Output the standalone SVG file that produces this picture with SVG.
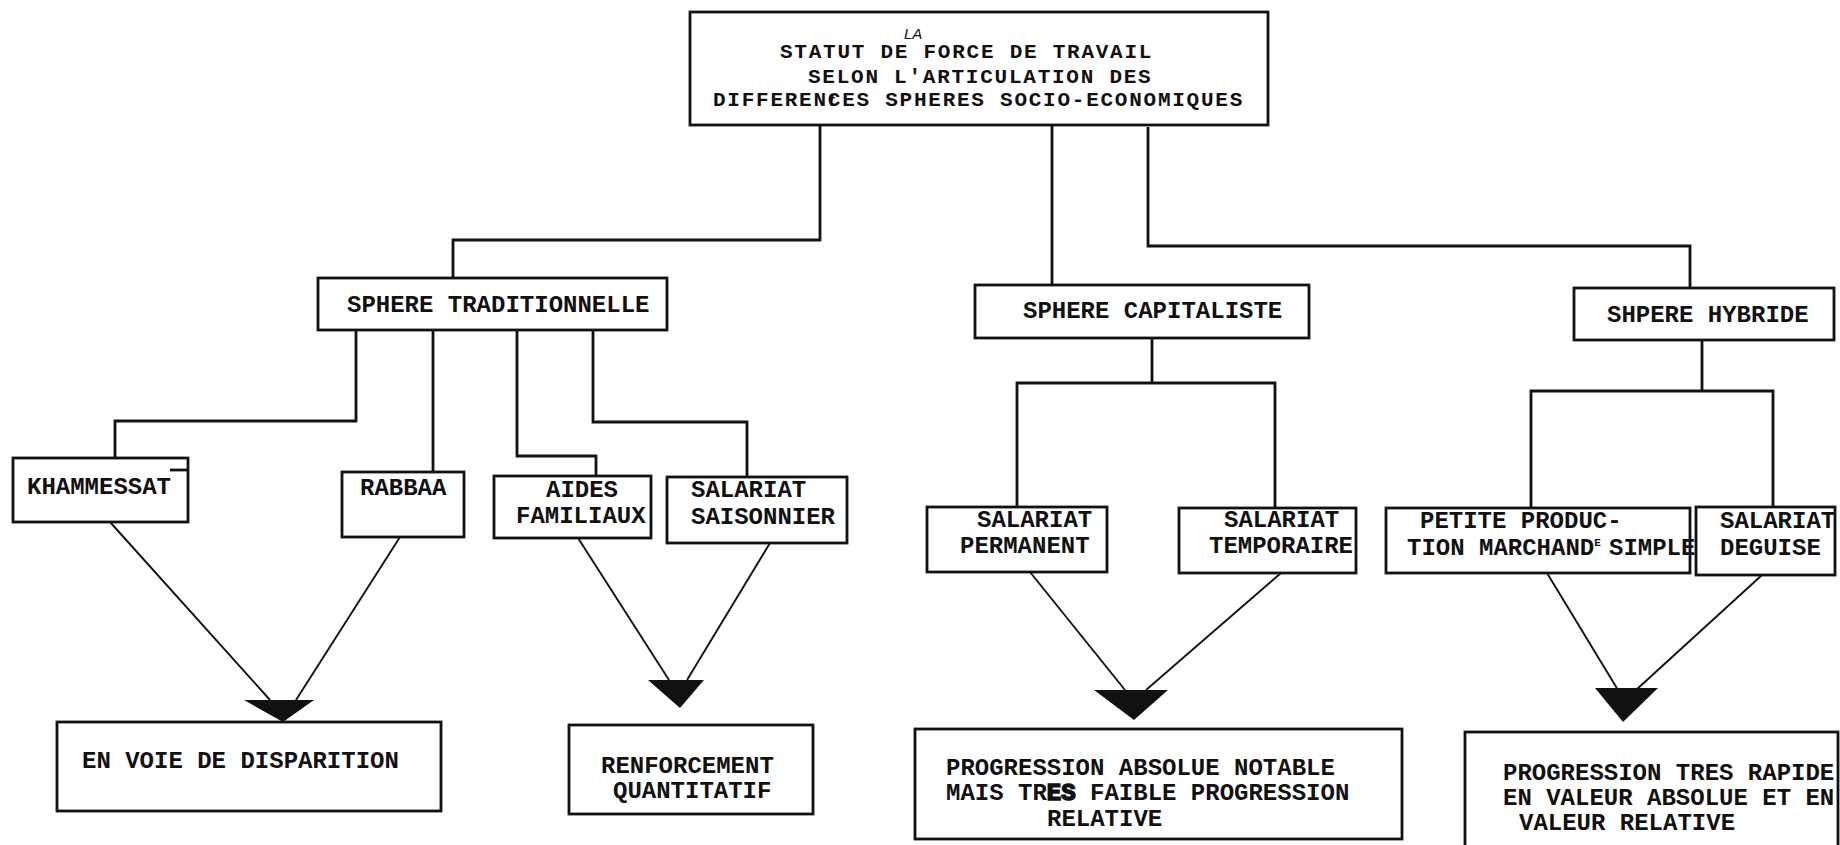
<svg xmlns="http://www.w3.org/2000/svg" width="1840" height="845" viewBox="0 0 1840 845">
<style>
.bg{fill:#fff}
.box{fill:none;stroke:#111;stroke-width:2.8}
.ln{fill:none;stroke:#111;stroke-width:2.8}
.dg{fill:none;stroke:#111;stroke-width:1.9}
.head{fill:#111}
.t{font-family:"Liberation Mono","DejaVu Sans Mono",monospace;font-size:24px;font-weight:bold;fill:#111}
.tt{font-family:"Liberation Mono","DejaVu Sans Mono",monospace;font-size:21px;font-weight:bold;letter-spacing:1.75px;fill:#111}
.hw{font-family:"Liberation Sans",sans-serif;font-style:italic;font-size:15px;fill:#111}
.smudge{stroke:#111;stroke-width:1.6}
</style>
<rect class="bg" x="0" y="0" width="1840" height="845"/>
<g id="connectors">
<path class="ln" d="M820 125 V240 H453 V278"/>
<path class="ln" d="M1052 126 V285"/>
<path class="ln" d="M1148 127 V246 H1690 V288"/>
<path class="ln" d="M356 330 V421 H115 V458"/>
<path class="ln" d="M433 330 V472"/>
<path class="ln" d="M517 330 V456 H596 V477"/>
<path class="ln" d="M593 330 V422 H747 V477"/>
<path class="ln" d="M1152 338 V383"/>
<path class="ln" d="M1017 507 V383 H1275 V507"/>
<path class="ln" d="M1702 340 V391"/>
<path class="ln" d="M1531 508 V391 H1773 V508"/>
<path class="dg" d="M110 522 L270 700"/>
<path class="dg" d="M400 537 L296 700"/>
<path class="dg" d="M578 538 L669 680"/>
<path class="dg" d="M770 543 L687 680"/>
<path class="dg" d="M1030 572 L1125 690"/>
<path class="dg" d="M1281 573 L1146 690"/>
<path class="dg" d="M1547 573 L1618 690"/>
<path class="dg" d="M1762 575 L1636 690"/>
<polygon class="head" points="244,700 314,700 283,722"/>
<polygon class="head" points="648,680 704,680 680,708"/>
<polygon class="head" points="1094,690 1168,690 1134,720"/>
<polygon class="head" points="1595,688 1658,688 1623,722"/>
</g>
<g id="n-top">
<rect class="box" x="690" y="12" width="578" height="113"/>
<text class="hw" x="904" y="39">LA</text>
<text class="tt" x="780" y="58">STATUT DE FORCE DE TRAVAIL</text>
<text class="tt" x="808" y="83">SELON L'ARTICULATION DES</text>
<text class="tt" x="713" y="106">DIFFERENCES SPHERES SOCIO-ECONOMIQUES</text>
<text class="hw" x="829" y="106" style="font-size:16px;font-weight:bold">t</text>
</g>
<g id="n-trad">
<rect class="box" x="318" y="278" width="349" height="52"/>
<text class="t" x="347" y="312">SPHERE TRADITIONNELLE</text>
</g>
<g id="n-khammessat">
<rect class="box" x="13" y="458" width="175" height="64"/>
<path class="ln" d="M170 470 H188"/>
<text class="t" x="27" y="494">KHAMMESSAT</text>
</g>
<g id="n-rabbaa">
<rect class="box" x="342" y="472" width="122" height="65"/>
<text class="t" x="360" y="495">RABBAA</text>
</g>
<g id="n-aides">
<rect class="box" x="494" y="476" width="157" height="62"/>
<text class="t" x="546" y="497">AIDES</text>
<text class="t" x="516" y="523">FAMILIAUX</text>
</g>
<g id="n-saisonnier">
<rect class="box" x="667" y="477" width="180" height="66"/>
<text class="t" x="691" y="497">SALARIAT</text>
<text class="t" x="691" y="524">SAISONNIER</text>
</g>
<g id="n-disparition">
<rect class="box" x="57" y="722" width="384" height="89"/>
<text class="t" x="82" y="768">EN VOIE DE DISPARITION</text>
</g>
<g id="n-renforcement">
<rect class="box" x="569" y="725" width="244" height="89"/>
<text class="t" x="601" y="773">RENFORCEMENT</text>
<text class="t" x="613" y="798">QUANTITATIF</text>
</g>
<g id="n-capitaliste">
<rect class="box" x="975" y="285" width="334" height="53"/>
<text class="t" x="1023" y="318">SPHERE CAPITALISTE</text>
</g>
<g id="n-permanent">
<rect class="box" x="927" y="507" width="180" height="65"/>
<text class="t" x="977" y="527">SALARIAT</text>
<text class="t" x="960" y="553">PERMANENT</text>
</g>
<g id="n-temporaire">
<rect class="box" x="1179" y="508" width="177" height="65"/>
<text class="t" x="1224" y="527">SALARIAT</text>
<text class="t" x="1209" y="553">TEMPORAIRE</text>
</g>
<g id="n-prog-abs">
<rect class="box" x="915" y="729" width="487" height="110"/>
<text class="t" x="946" y="775">PROGRESSION ABSOLUE NOTABLE</text>
<text class="t" x="946" y="800">MAIS TR<tspan class="smudge">ES</tspan> FAIBLE PROGRESSION</text>
<text class="t" x="1047" y="826">RELATIVE</text>
</g>
<g id="n-hybride">
<rect class="box" x="1574" y="288" width="260" height="52"/>
<text class="t" x="1607" y="322">SHPERE HYBRIDE</text>
</g>
<g id="n-petite">
<rect class="box" x="1386" y="508" width="304" height="65"/>
<text class="t" x="1420" y="528">PETITE PRODUC-</text>
<text class="t" x="1407" y="555">TION MARCHAND<tspan style="font-size:11px" dy="-9">E</tspan><tspan x="1609" dy="9">SIMPLE</tspan></text>
</g>
<g id="n-deguise">
<rect class="box" x="1696" y="507" width="139" height="68"/>
<text class="t" x="1720" y="528">SALARIAT</text>
<text class="t" x="1720" y="555">DEGUISE</text>
</g>
<g id="n-prog-rapide">
<rect class="box" x="1465" y="732" width="373" height="120"/>
<text class="t" x="1503" y="780">PROGRESSION TRES RAPIDE</text>
<text class="t" x="1503" y="805">EN VALEUR ABSOLUE ET EN</text>
<text class="t" x="1519" y="830">VALEUR RELATIVE</text>
</g>
</svg>
